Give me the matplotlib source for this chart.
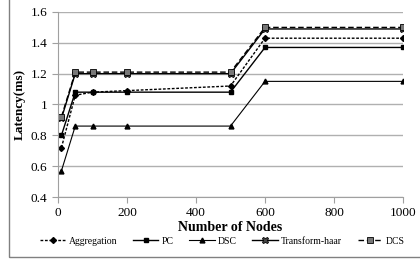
import matplotlib.pyplot as plt
from matplotlib.patches import Rectangle
from matplotlib.ticker import FuncFormatter

plt.rcParams['font.family'] = ['Liberation Serif', 'DejaVu Serif']

# Latency vs number of nodes
nodes = [10, 50, 100, 200, 500, 600, 1000]
aggregation = [0.72, 1.06, 1.08, 1.09, 1.12, 1.43, 1.43]
pc = [0.80, 1.08, 1.08, 1.08, 1.08, 1.37, 1.37]
dsc = [0.57, 0.86, 0.86, 0.86, 0.86, 1.15, 1.15]
transform_haar = [0.91, 1.20, 1.20, 1.20, 1.20, 1.49, 1.49]
dcs = [0.92, 1.21, 1.21, 1.21, 1.21, 1.50, 1.50]

fig = plt.figure(figsize=(4.2, 2.6), dpi=100)
ax = fig.add_axes([58/420, 1 - 197/260, 345/420, 185/260])

ax.plot(nodes, aggregation, color='black', ls=(0, (2, 1.2)), lw=1,
        marker='D', ms=3, label='Aggregation')
ax.plot(nodes, pc, color='black', ls='-', lw=1,
        marker='s', ms=3.5, label='PC')
ax.plot(nodes, dsc, color='black', ls='-', lw=0.8,
        marker='^', ms=3.5, label='DSC')
ax.plot(nodes, transform_haar, color='black', ls='-', lw=1,
        marker='X', ms=4.5, mfc='#444444', mec='black', mew=0.6, label='Transform-haar')
ax.plot(nodes, dcs, color='black', ls=(0, (4, 2)), lw=1,
        marker='s', ms=4.5, mfc='#777777', mec='black', mew=0.6, label='DCS')

ax.set_xlim(0, 1000)
ax.set_ylim(0.4, 1.6)
ax.set_xticks([0, 200, 400, 600, 800, 1000])
ax.set_yticks([0.4, 0.6, 0.8, 1.0, 1.2, 1.4, 1.6])
ax.yaxis.set_major_formatter(FuncFormatter(lambda v, p: '1' if abs(v - 1) < 1e-9 else f'{v:.1f}'))
ax.grid(axis='y', color='#b0b0b0', lw=1)
ax.set_axisbelow(True)
for s in ['top', 'right']:
    ax.spines[s].set_visible(False)
for s in ['left', 'bottom']:
    ax.spines[s].set_color('#a0a0a0')
ax.tick_params(axis='both', colors='#a0a0a0', labelcolor='black', labelsize=9.5, length=4)
ax.set_xlabel('Number of Nodes', fontsize=10, fontweight='bold', labelpad=1)
ax.set_ylabel('Latency(ms)', fontsize=9.5, fontweight='bold', labelpad=4)

fig.legend(loc='center', bbox_to_anchor=(0.53, 1 - 241/260), ncol=5, frameon=False,
           fontsize=7, handlelength=2.6, handletextpad=0.3, columnspacing=1.65,
           borderpad=0, borderaxespad=0)

fig.add_artist(Rectangle((9/420, 3/260), 1.2, 1.2, transform=fig.transFigure,
                         fill=False, ec='#808080', lw=1))

fig.savefig('out.png', dpi=100)
